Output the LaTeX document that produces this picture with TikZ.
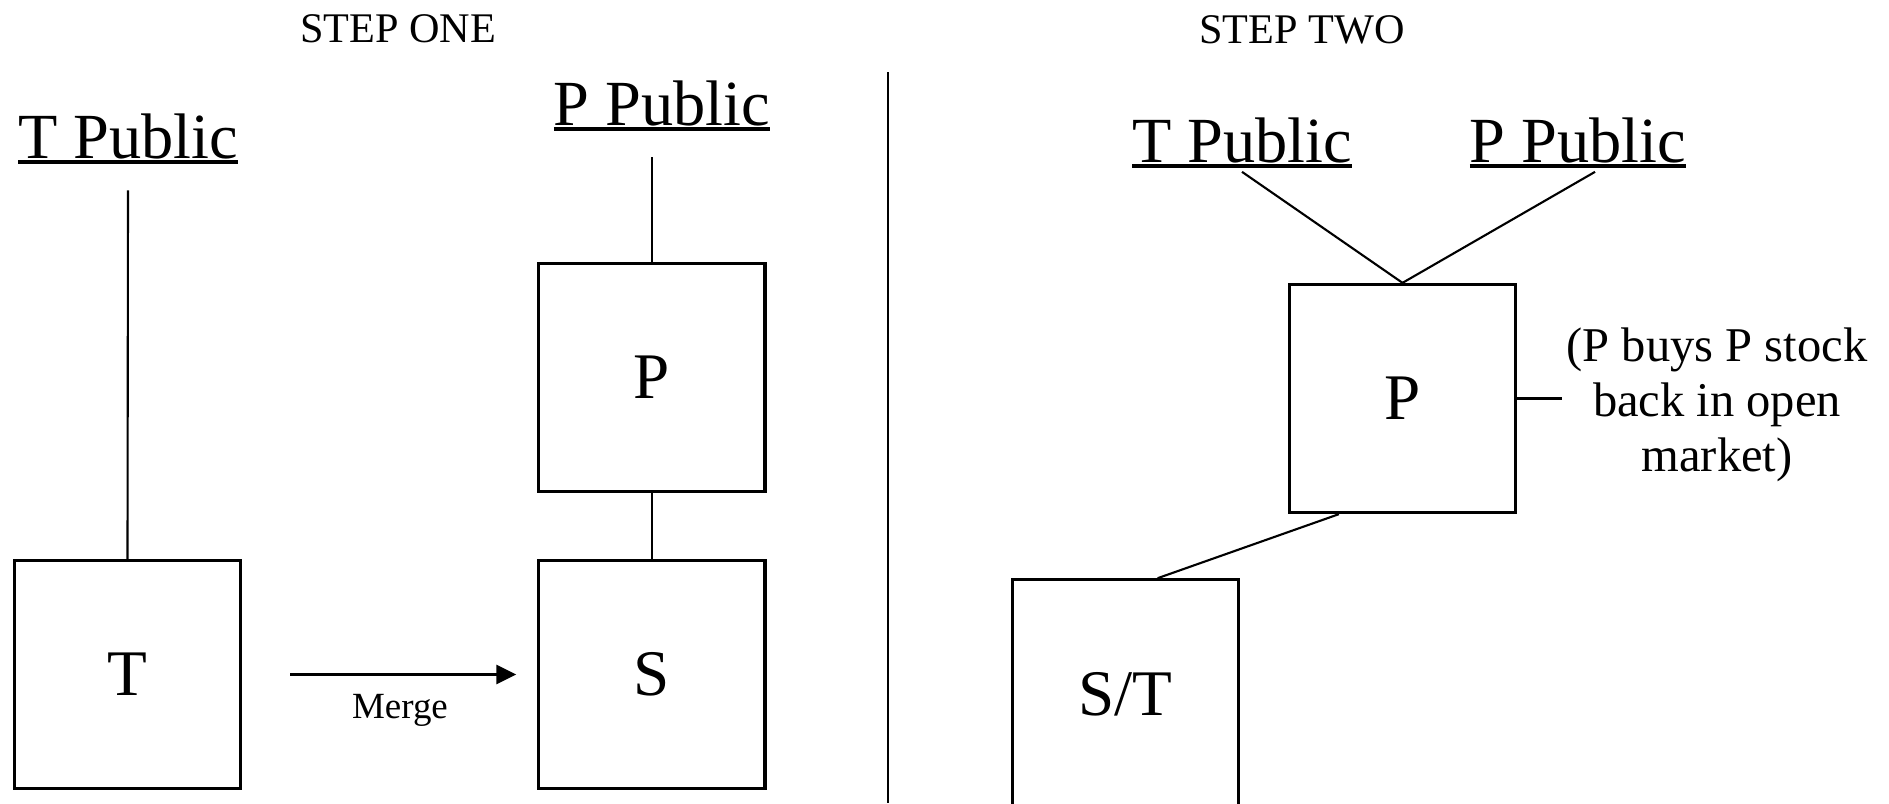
\documentclass[tikz,border=0pt]{standalone}
\usepackage{fontspec}
\setmainfont{Liberation Serif}
\usetikzlibrary{positioning, arrows.meta}
\newcommand\publine[1]{\setbox0=\hbox{#1}\rlap{\rule[-1.6pt]{\wd0}{0.9pt}}\box0}

\begin{document}
\begin{tikzpicture}[
  x=0.01cm, y=-0.01cm,
  box/.style={rectangle, draw=black, line width=0.9pt, fill=white,
              minimum width=2.26cm, minimum height=2.28cm,
              font=\fontsize{18.5}{22}\selectfont, inner sep=0pt},
  pub/.style={anchor=base, inner sep=7.4pt, font=\fontsize{18.3}{22}\selectfont},
  head/.style={anchor=base, font=\fontsize{12}{14}\selectfont},
  conn/.style={line width=0.6pt},
  arr/.style={-{Triangle[length=0.2cm, width=0.19cm]}, line width=0.8pt},
]
  \useasboundingbox (0,0) rectangle (1889,803);

  % step one
  \node[head] (one) at (398,42) {STEP ONE};
  \node[box] (T) at (127.5,674.5) {T};
  \node[box, right=2.95cm of T] (S) {S};
  \node[box, above=0.66cm of S] (Pl) {P};
  \node[pub] (TPl) at (128,158) {\publine{T Public}};
  \node[pub] (PPl) at (662,125) {\publine{P Public}};
  \node[anchor=base, font=\fontsize{10.5}{12}\selectfont] (merge) at (400,718) {Merge};

  \draw[conn] (TPl.south) -- (T.north);
  \draw[conn] (Pl.north |- PPl.south) -- (Pl.north);
  \draw[conn] (Pl) -- (S);
  \draw[arr, shorten <=0.48cm, shorten >=0.21cm] (T) -- (S);

  % divider
  \draw[line width=0.7pt] (888,72) -- (888,803);

  % step two
  \node[head] (two) at (1302,43) {STEP TWO};
  \node[box] (Pr) at (1402.5,398.5) {P};
  \node[box, below left=0.64cm and 0.48cm of Pr] (ST) {S/T};
  \node[pub, inner sep=1pt] (TPr) at (1242,162) {\publine{T Public}};
  \node[pub, inner sep=1pt] (PPr) at (1578,162) {\publine{P Public}};
  \node[align=center, inner sep=1pt, font=\fontsize{13.8}{15.6}\selectfont] (note) at (1717,405)
    {(P buys P stock\\back in open\\market)};

  \draw[conn] (TPr.south) -- (Pr.north);
  \draw[conn] ([xshift=0.17cm]PPr.south) -- (Pr.north);
  \draw[conn] ([xshift=0.51cm]Pr.south west) -- ([xshift=1.47cm]ST.north west);
  \draw[conn] (Pr.east) -- (Pr.east -| note.west);
\end{tikzpicture}
\end{document}
